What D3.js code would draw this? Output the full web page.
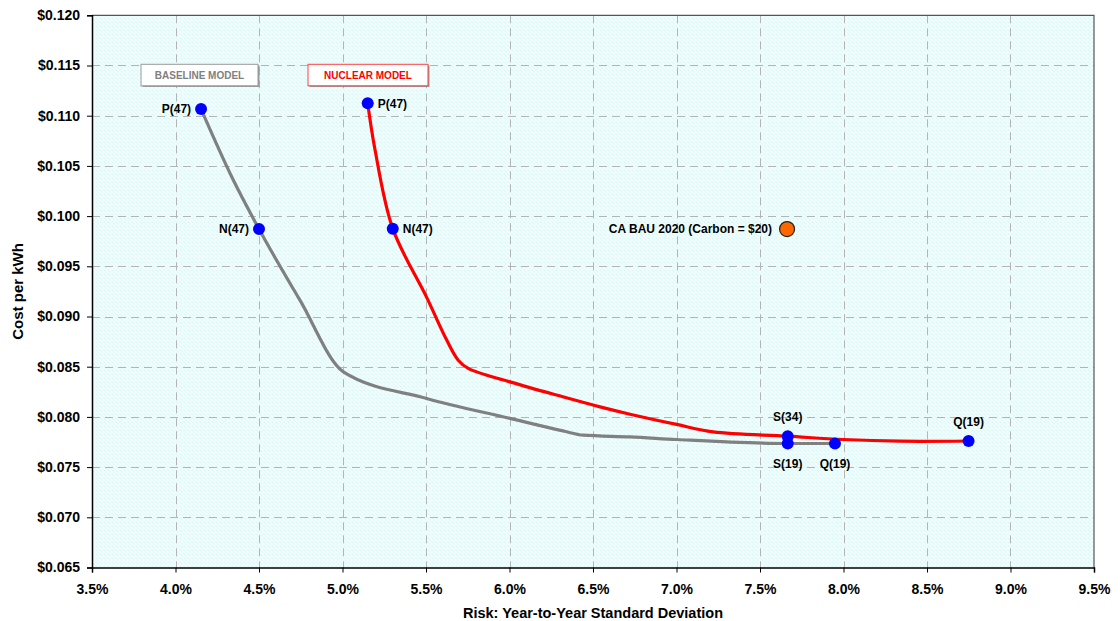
<!DOCTYPE html>
<html><head><meta charset="utf-8">
<script src="https://cdn.jsdelivr.net/npm/d3@7"></script>
<style>
body{margin:0;background:#fff;}
text{font-family:"Liberation Sans",Arial,Helvetica,sans-serif;font-weight:bold;}
</style>
</head><body>
<svg id="chart" width="1120" height="621"></svg>
<script>
// ---- data ----
const xTicks = [3.5, 4.0, 4.5, 5.0, 5.5, 6.0, 6.5, 7.0, 7.5, 8.0, 8.5, 9.0, 9.5];
const yTicks = [0.065, 0.070, 0.075, 0.080, 0.085, 0.090, 0.095, 0.100, 0.105, 0.110, 0.115, 0.120];

const baselineRisk = [4.153, 4.346, 4.50, 4.746, 5.005, 5.504, 6.003, 6.320, 6.442, 6.722, 7.001, 7.666, 7.949];
const baselineCost = [0.11066, 0.10359, 0.09871, 0.09160, 0.08449, 0.08184, 0.07985, 0.07861, 0.07818, 0.07801, 0.07775, 0.07735, 0.07735];

const nuclearRisk = [5.151, 5.195, 5.301, 5.504, 5.624, 5.693, 5.753, 6.003, 6.320, 6.542, 6.722, 7.001, 7.220, 7.666, 7.997, 8.338, 8.749];
const nuclearCost = [0.11123, 0.10658, 0.09875, 0.09190, 0.08765, 0.08565, 0.08483, 0.08349, 0.08200, 0.08100, 0.08027, 0.07925, 0.07851, 0.07808, 0.07775, 0.07758, 0.07760];

const baselineMarkerNames = ["P(47)", "N(47)", "S(19)", "Q(19)"];
const baselineMarkerRisk  = [4.153, 4.50, 7.666, 7.949];
const baselineMarkerCost  = [0.11066, 0.09871, 0.07735, 0.07735];

const nuclearMarkerNames = ["P(47)", "N(47)", "S(34)", "Q(19)"];
const nuclearMarkerRisk  = [5.151, 5.301, 7.666, 8.749];
const nuclearMarkerCost  = [0.11123, 0.09875, 0.07808, 0.07760];

const bauName = "CA BAU 2020 (Carbon = $20)";
const bauRisk = [7.662];
const bauCost = [0.09871];

const legendNames = ["BASELINE MODEL", "NUCLEAR MODEL"];
const xTitle = "Risk: Year-to-Year Standard Deviation";
const yTitle = "Cost per kWh";

// ---- layout ----
const svg = d3.select("#chart");
const L = 92, R = 1094, T = 15.3, B = 567.5;
const x = d3.scaleLinear().domain([3.5, 9.5]).range([L, R]);
const y = d3.scaleLinear().domain([0.065, 0.120]).range([B, T]);

// background pattern
const defs = svg.append("defs");
const pat = defs.append("pattern").attr("id","trellis").attr("patternUnits","userSpaceOnUse")
  .attr("width",4).attr("height",4);
pat.append("rect").attr("width",4).attr("height",4).attr("fill","#d2fcfc");
pat.append("path").attr("d","M0,0 L4,4 M4,0 L0,4").attr("stroke","#ffffff").attr("stroke-width",1.1).attr("fill","none");

svg.append("rect").attr("x",L).attr("y",T).attr("width",R-L).attr("height",B-T).attr("fill","url(#trellis)");

// gridlines
const grid = svg.append("g").attr("stroke","#b4b4b4").attr("stroke-width",1).attr("stroke-dasharray","8,5");
grid.selectAll("line.v").data(xTicks.slice(1,-1)).join("line")
  .attr("x1",d=>Math.round(x(d))+0.5).attr("x2",d=>Math.round(x(d))+0.5).attr("y1",T).attr("y2",B);
grid.selectAll("line.h").data(yTicks.slice(1,-1)).join("line")
  .attr("y1",d=>Math.round(y(d))+0.5).attr("y2",d=>Math.round(y(d))+0.5).attr("x1",L).attr("x2",R);

// plot border (top/right)
svg.append("path").attr("d",`M${L},${T} H${R} V${B}`).attr("fill","none").attr("stroke","#555").attr("stroke-width",1.2);

// axes
const xAxis = d3.axisBottom(x).tickValues(xTicks).tickFormat(d=>d.toFixed(1)+"%").tickSize(5).tickPadding(12);
const gx = svg.append("g").attr("transform",`translate(0,${B})`).call(xAxis);
gx.select(".domain").attr("stroke","#000").attr("stroke-width",1.5);
gx.selectAll(".tick line").attr("stroke","#000");
gx.selectAll("text").attr("font-size",14).attr("fill","#000").attr("font-family",null);

const yAxis = d3.axisLeft(y).tickValues(yTicks).tickFormat(d=>"$"+d.toFixed(3)).tickSize(5).tickPadding(7);
const gy = svg.append("g").attr("transform",`translate(${L},0)`).call(yAxis);
gy.select(".domain").attr("stroke","#000").attr("stroke-width",1.5);
gy.selectAll(".tick line").attr("stroke","#000");
gy.selectAll("text").attr("font-size",14).attr("fill","#000").attr("font-family",null);

// axis titles
svg.append("text").attr("x",(L+R)/2).attr("y",618).attr("text-anchor","middle").attr("font-size",14.5).text(xTitle);
svg.append("text").attr("transform",`translate(23,${(T+B)/2}) rotate(-90)`).attr("text-anchor","middle").attr("font-size",15).text(yTitle);

// lines
const grayLine = d3.line().x(d=>x(d[0])).y(d=>y(d[1])).curve(d3.curveMonotoneX);
const redLine = d3.line().x(d=>x(d[0])).y(d=>y(d[1])).curve(d3.curveCatmullRom.alpha(0.5));
svg.append("path").datum(d3.zip(baselineRisk, baselineCost)).attr("d",grayLine)
  .attr("fill","none").attr("stroke","#808080").attr("stroke-width",3.2).attr("stroke-linejoin","round");
svg.append("path").datum(d3.zip(nuclearRisk, nuclearCost)).attr("d",redLine)
  .attr("fill","none").attr("stroke","#ff0000").attr("stroke-width",3.2).attr("stroke-linejoin","round");

// markers
function markers(names, rs, cs, placement){
  const data = names.map((n,i)=>({n, r:rs[i], c:cs[i], p:placement[i]}));
  svg.append("g").selectAll("circle").data(data).join("circle")
    .attr("cx",d=>x(d.r)).attr("cy",d=>y(d.c)).attr("r",6).attr("fill","#0000ff");
  svg.append("g").selectAll("text").data(data).join("text")
    .attr("font-size",12).attr("fill","#000")
    .attr("x",d=> d.p==="left" ? x(d.r)-10 : d.p==="right" ? x(d.r)+10 : x(d.r))
    .attr("y",d=> d.p==="above" ? y(d.c)-19 : d.p==="below" ? y(d.c)+20 : y(d.c))
    .attr("dy","0.35em")
    .attr("text-anchor",d=> d.p==="left" ? "end" : d.p==="right" ? "start" : "middle")
    .text(d=>d.n);
}
markers(baselineMarkerNames, baselineMarkerRisk, baselineMarkerCost, ["left","left","below","below"]);
markers(nuclearMarkerNames, nuclearMarkerRisk, nuclearMarkerCost, ["right","right","above","above"]);

// BAU point
svg.append("circle").attr("cx",x(bauRisk[0])).attr("cy",y(bauCost[0])).attr("r",7.5)
  .attr("fill","#ff6600").attr("stroke","#222").attr("stroke-width",1.2);
svg.append("text").attr("x",x(bauRisk[0])-15).attr("y",y(bauCost[0])).attr("dy","0.35em")
  .attr("text-anchor","end").attr("font-size",12).attr("fill","#000").text(bauName);

// legend boxes
const boxes = [
  {name: legendNames[0], x0: 141, x1: 258, color: "#808080", border: "#9a9a9a"},
  {name: legendNames[1], x0: 308, x1: 428, color: "#ff0000", border: "#ff4040"}
];
boxes.forEach(b=>{
  svg.append("rect").attr("x",b.x0+1.5).attr("y",65.5).attr("width",b.x1-b.x0).attr("height",21.5).attr("fill","#9a9a9a");
  svg.append("rect").attr("x",b.x0).attr("y",64.3).attr("width",b.x1-b.x0).attr("height",21.5)
    .attr("fill","#fff").attr("stroke",b.border).attr("stroke-width",1);
  svg.append("text").attr("x",(b.x0+b.x1)/2).attr("y",75.3).attr("dy","0.35em").attr("text-anchor","middle")
    .attr("font-size",10).attr("fill",b.color).text(b.name);
});
</script>
</body></html>
